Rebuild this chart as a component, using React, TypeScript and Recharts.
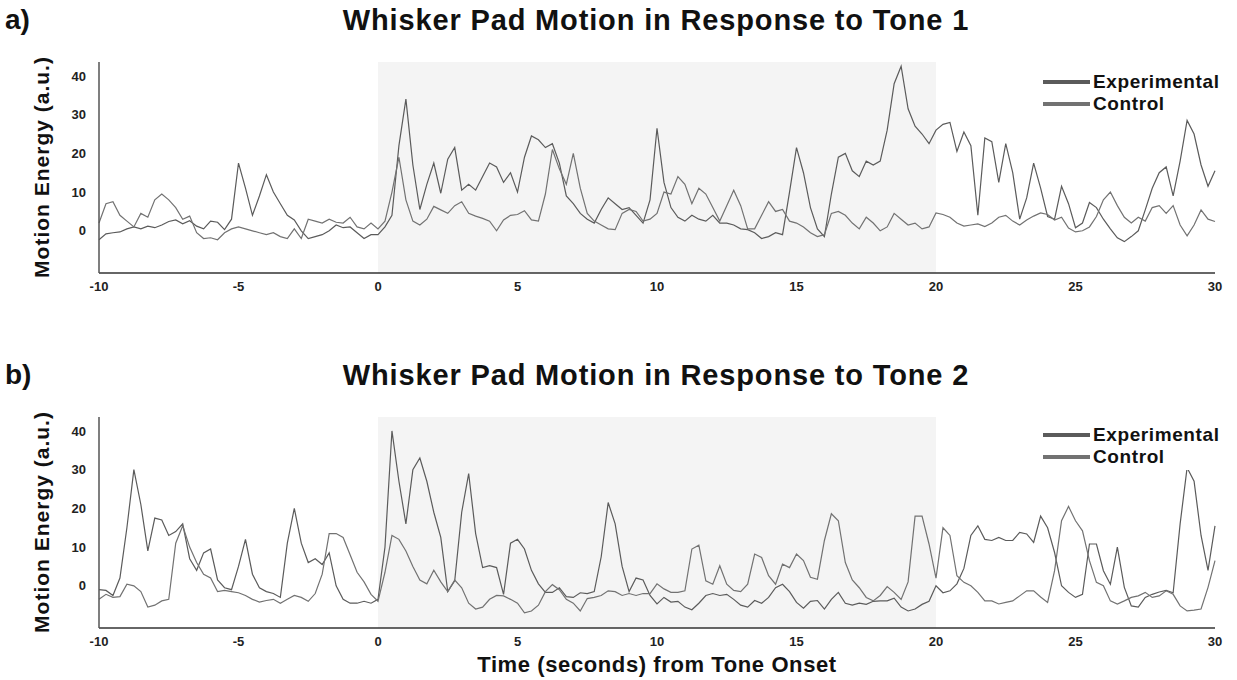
import { LineChart, Line, XAxis, YAxis, ReferenceArea, Legend } from 'recharts'

// time grid: -10 s to 30 s in 0.25 s steps
const TIME_START = -10
const TIME_STEP = 0.25
const xTicks = [-10, -5, 0, 5, 10, 15, 20, 25, 30]
const yTicks = [0, 10, 20, 30, 40]
const toneWindow = [0, 20]
const legendOrder = ['Experimental', 'Control']

const tone1Experimental = [
  -2.3, -0.8, -0.5, -0.3, 0.5, 1, 0.5, 1.2, 0.8, 1.5,
  2.4, 2.8, 1.8, 2.6, 1.2, 0.5, 2.5, 2.2, 0.3, 3,
  17.5, 11, 4, 9, 14.5, 10, 7, 4, 2.8, 0,
  -2, -1.5, -1, 0, 1.5, 0.8, 1, -0.5, -2, -1,
  -1, 1, 4, 22, 34, 17, 5.5, 12, 17.5, 9.7,
  18.5, 21.5, 10.5, 12, 10.5, 14, 17.5, 16.5, 12.5, 15,
  10, 19, 24.5, 23.5, 21.5, 22.5, 17.5, 9, 7, 4.5,
  3, 2, 5.5, 8.5, 7, 5.5, 6, 4, 2, 8,
  26.5, 12.5, 6, 3.5, 2.5, 4, 3, 2.5, 4, 2,
  2, 1.5, 0.5, 0.3, -0.5, -2, -1.5, -0.5, -1, 10,
  21.5, 15, 6, 0.5, -1.5, 9.5, 19, 20, 15.5, 14,
  18, 17, 18, 26, 38, 42.5, 31.5, 27, 25, 22.5,
  26, 27.5, 28, 20.5, 25.5, 22, 4, 24, 23, 12.5,
  22.5, 15, 3, 8.5, 17.5, 11, 3.7, 3, 11.5, 7,
  0.8, 2, 7.3, 6, 3, 0.5, -1.8, -2.8, -1.5, 0,
  5.4, 11, 15, 16.5, 9, 18, 28.5, 25, 17, 11.5, 15.5,
]

const tone1Control = [
  2, 7, 7.5, 4, 2.5, 1, 4.5, 3.5, 8, 9.5,
  8, 6, 3, 3.8, -0.5, -2, -1.8, -2.3, -0.5, 0.5,
  1, 0.5, 0, -0.5, -1, -0.5, -1.5, -2, 0.5, -2,
  3, 2.5, 2, 3, 2.2, 2, 3.5, 1, 0.5, 2,
  0.5, 2.5, 10, 19, 8, 2.5, 1.5, 3, 6.3, 5.4,
  4.5, 6.5, 7.5, 4.5, 3.8, 3.2, 2.5, 0, 2.8, 4,
  4.2, 5.2, 2.8, 2.5, 9.5, 21, 16, 12, 20, 11,
  4.5, 2.5, 1.5, 0.5, 0.3, 4.5, 5.5, 5, 2.5, 3,
  4.5, 10, 9.5, 14, 12, 7, 11, 9.5, 6, 2.5,
  6.5, 10.5, 6.5, 0.5, 0.5, 4, 7.5, 5, 5.5, 2.5,
  2, 1, -0.5, -1.5, -1, 4.5, 5, 4, 2, 0.5,
  3.5, 2, 0, 1, 4.5, 3, 1.5, 2, 0.5, 1,
  4.6, 4.2, 3.5, 2, 1.2, 1.5, 1.8, 1.1, 2, 3.5,
  4, 2.5, 1.5, 2.8, 3.8, 4.6, 4.2, 2.8, 3.5, 0.7,
  -0.3, 0, 1, 3.7, 8, 10, 6.5, 3.5, 2, 3.5,
  2.5, 6, 6.5, 4.5, 6.5, 1.5, -1.3, 1.5, 5.4, 3, 2.4,
]

const tone2Experimental = [
  -1, -1.2, -2.5, 2, 15, 30, 21, 9, 17.5, 17,
  13, 14, 16, 7, 4, 8.5, 9.5, 1.5, -0.5, -1,
  5, 12, 3, -0.5, -1.5, -2, -3, 11, 20, 11,
  6, 7, 5.5, 8.5, 0, -3.5, -4.5, -4.5, -4, -4.5,
  -3.5, 10, 40, 27, 16, 30, 33, 27, 19, 12.5,
  -1.5, 1.3, 19, 29, 13.5, 4.7, 5.2, 4.7, -2.2, 11,
  12, 9.5, 4, 0.5, -1.7, -1.7, -0.5, -2.8, -3, -1.8,
  -2, -1.5, 7.5, 21.5, 16, 5, -1.5, 2, 1.5, -2.5,
  -4.7, -3, -4.2, -4, -5.5, -6.2, -4.5, -2.5, -2, -2.5,
  -2.2, -3.5, -5, -5.5, -3.8, -4.5, -3, -0.5, 0.4, -1.5,
  -4.3, -5.8, -4, -3.8, -6, -3.5, -1.7, -4.5, -5, -4.5,
  -4.8, -4, -3.9, -3.9, -3.2, -5.5, -6.5, -6, -4.8, -4,
  0, -1.8, -1.3, 0.5, 4.5, 13, 15.5, 12, 11.7, 12.5,
  11.7, 11.7, 13.8, 13.4, 11.2, 18, 15, 8.6, 0, -1.7,
  -3, -2.2, 10.8, 10.8, 3.9, 0.4, 10, -0.4, -5.2, -5.5,
  -3, -2.2, -1.6, -1.2, -1.8, 16, 30.5, 27, 13, 4, 15.5,
]

const tone2Control = [
  -3.5, -2.2, -3, -2.8, 0.4, 0, -1.5, -5.5, -5, -3.9,
  -3.5, 11, 15.5, 10, 6, 3, 2, -1.5, -1.2, -1.5,
  -1.8, -2.5, -3.5, -4.2, -3.8, -3.5, -4.5, -3.5, -2.5, -3,
  -4, -2, 3, 13.5, 13.5, 12.5, 8, 3.5, 1, -2.2,
  -4, 3.5, 13, 12, 9, 5, 1.5, 0.5, 4, 1,
  -1.5, 1.5, -0.5, -4.5, -6, -5.5, -3.5, -2.5, -2.6, -3.5,
  -4.5, -7, -6.5, -5, -1.5, 0.3, -1, -3.5, -4.5, -6.5,
  -3.3, -3, -2.5, -1.3, -1.5, -2.5, -2, -2.5, -2, -2,
  0.5, -0.8, -1.7, -1.7, -1.3, 9.5, 10.5, 1.3, 0.4, 5.2,
  0.4, -1.2, -1.5, 0.4, 8.2, 7.3, 2.6, 0.4, 5.6, 4.7,
  8.2, 6.5, 2.2, 1.7, 11.7, 18.6, 16.8, 6, 1.5, -0.5,
  -3, -3.9, -2.5, -0.2, -1.7, -3.5, 1, 18, 18, 10.8,
  2, 15, 13, 2.6, 0.9, 0, -1.7, -3.9, -3.9, -4.7,
  -4.3, -3.9, -2.6, -1.3, -1.3, -2.9, -4.3, 3.9, 16.8, 20.5,
  16.8, 14.2, 6.5, 0.9, 0, -3.9, -4.7, -3.9, -3, -2.6,
  -1.7, -3, -2.6, -1.3, -2.2, -5.2, -6.5, -6.3, -6, -0.4, 6.5,
]

const buildRows = (experimental: number[], control: number[]) =>
  experimental.map((v, i) => ({
    t: TIME_START + i * TIME_STEP,
    experimental: v,
    control: control[i],
  }))

const tone1Data = buildRows(tone1Experimental, tone1Control)
const tone2Data = buildRows(tone2Experimental, tone2Control)

const EXP_COLOR = '#5b5b5b'
const CTRL_COLOR = '#727272'
const FONT = '"Liberation Sans", Arial, Helvetica, sans-serif'
const tickStyle = { fontSize: 13, fontWeight: 700, fill: '#222' }

const renderLegend = (props: any) => {
  const items = [...(props.payload || [])].sort(
    (a: any, b: any) => legendOrder.indexOf(a.value) - legendOrder.indexOf(b.value)
  )
  return (
    <div style={{ background: '#fff', padding: '2px 6px 2px 2px' }}>
      {items.map((entry: any) => (
        <div key={entry.value} style={{ display: 'flex', alignItems: 'center', height: 22 }}>
          <span style={{ display: 'inline-block', width: 47, height: 4, background: entry.color, marginRight: 3 }} />
          <span style={{ fontSize: 19, fontWeight: 700, color: '#111', letterSpacing: 0.6, lineHeight: '22px' }}>
            {entry.value}
          </span>
        </div>
      ))}
    </div>
  )
}

interface PanelProps {
  top: number
  letter: string
  title: string
  data: { t: number; experimental: number; control: number }[]
  legendTop: number
}

const Panel = ({ top, letter, title, data, legendTop }: PanelProps) => (
  <>
    <div style={{ position: 'absolute', left: 5, top: top + 6, fontSize: 28, fontWeight: 700, lineHeight: 1, color: '#111' }}>
      {letter}
    </div>
    <div
      style={{
        position: 'absolute', left: 656, top: top + 6, transform: 'translateX(-50%)', whiteSpace: 'nowrap',
        fontSize: 29, fontWeight: 700, letterSpacing: 0.85, lineHeight: 1, color: '#111',
      }}
    >
      {title}
    </div>
    <div
      style={{
        position: 'absolute', left: 42, top: top + 167, transform: 'translate(-50%, -50%) rotate(-90deg)',
        whiteSpace: 'nowrap', fontSize: 21, fontWeight: 700, letterSpacing: 1, color: '#111',
      }}
    >
      Motion Energy (a.u.)
    </div>
    <div style={{ position: 'absolute', left: 0, top }}>
      <LineChart width={1237} height={300} data={data} margin={{ top: 62, right: 22, left: 59, bottom: 7 }}>
        <ReferenceArea x1={toneWindow[0]} x2={toneWindow[1]} fill="#f4f4f4" fillOpacity={1} stroke="none" />
        <XAxis
          dataKey="t"
          type="number"
          domain={[-10, 30]}
          ticks={xTicks}
          interval={0}
          tickLine={false}
          tickSize={7}
          tickMargin={2}
          height={20}
          axisLine={{ stroke: '#333', strokeWidth: 1.5 }}
          tick={tickStyle}
        />
        <YAxis
          type="number"
          domain={[-10.9, 43.6]}
          allowDataOverflow
          ticks={yTicks}
          width={40}
          tickLine={false}
          tickSize={10}
          tickMargin={3}
          axisLine={{ stroke: '#555', strokeWidth: 1.5 }}
          tick={tickStyle}
        />
        <Line
          type="linear"
          dataKey="experimental"
          name="Experimental"
          stroke={EXP_COLOR}
          strokeWidth={1.2}
          dot={false}
          isAnimationActive={false}
        />
        <Line
          type="linear"
          dataKey="control"
          name="Control"
          stroke={CTRL_COLOR}
          strokeWidth={1.2}
          dot={false}
          isAnimationActive={false}
        />
        <Legend
          layout="vertical"
          align="center"
          verticalAlign="middle"
          content={renderLegend}
          wrapperStyle={{ top: legendTop, left: 1041, width: 192 }}
        />
      </LineChart>
    </div>
  </>
)

export default function App() {
  return (
    <div style={{ position: 'absolute', left: 0, top: 0, width: 1237, height: 680, background: '#fff', fontFamily: FONT }}>
      <Panel top={0} letter="a)" title="Whisker Pad Motion in Response to Tone 1" data={tone1Data} legendTop={69} />
      <Panel top={355} letter="b)" title="Whisker Pad Motion in Response to Tone 2" data={tone2Data} legendTop={67} />
      <div
        style={{
          position: 'absolute', left: 657, top: 654, transform: 'translateX(-50%)', whiteSpace: 'nowrap',
          fontSize: 22, fontWeight: 700, letterSpacing: 0.6, lineHeight: 1, color: '#111',
        }}
      >
        Time (seconds) from Tone Onset
      </div>
    </div>
  )
}
